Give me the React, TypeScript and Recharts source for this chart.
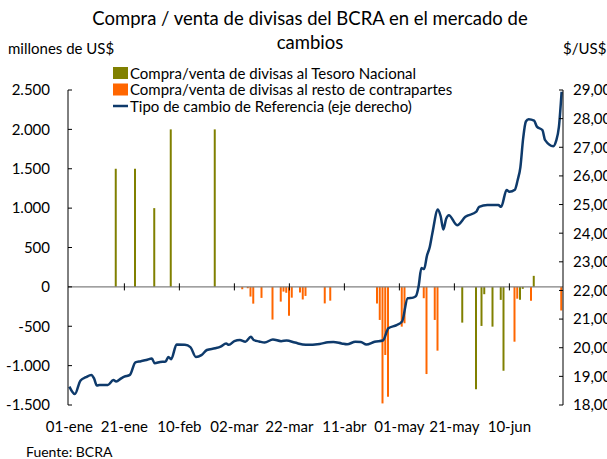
import React from 'react';
import { ComposedChart, Bar, Line, XAxis, YAxis, ReferenceLine } from 'recharts';

const NUM_DAYS = 180; // 01-ene .. 29-jun, one category per calendar day

const tickDays = [0, 20, 40, 60, 80, 100, 120, 140, 160];
const tickLabels = ['01-ene', '21-ene', '10-feb', '02-mar', '22-mar', '11-abr', '01-may', '21-may', '10-jun'];

const leftTicks = [-1500, -1000, -500, 0, 500, 1000, 1500, 2000, 2500];
const rightTicks = [18, 19, 20, 21, 22, 23, 24, 25, 26, 27, 28, 29];

// Compra/venta al Tesoro Nacional (millones de US$)
const tesoroDays = [17, 24, 31, 37, 53, 143, 148, 150, 151, 154, 157, 158, 164, 165, 169];
const tesoroValues = [1500, 1500, 1000, 2000, 2000, -454, -1300, -496, -93, -505, -165, -1065, -165, -25, 140];

// Compra/venta al resto de contrapartes (millones de US$)
const restoDays = [63, 65, 66, 67, 70, 74, 77, 78, 79, 80, 81, 84, 85, 86, 93, 95, 112, 113, 114, 115, 116, 121, 122, 129, 130, 133, 134, 162, 163, 168, 179];
const restoValues = [-30, -17, -123, -213, -140, -415, -187, -60, -75, -367, -137, -72, -160, -115, -210, -175, -210, -420, -1480, -865, -1395, -505, -462, -144, -1107, -420, -810, -696, -150, -175, -300];

// Tipo de cambio de referencia ($/US$)
const tcDays = [0, 2, 4, 6, 8, 9, 10, 11, 14, 16, 17, 19, 20, 22, 24, 26, 28, 30, 31, 33, 35, 36, 37, 39, 42, 44, 46, 48, 50, 53, 55, 57, 58, 60, 62, 64, 66, 67, 69, 71, 74, 77, 79, 82, 86, 91, 94, 96, 99, 101, 104, 106, 108, 111, 114, 116, 119, 121, 123, 125, 126, 127, 128, 129, 130, 131, 132, 134, 135, 136, 137, 138, 141, 144, 148, 149, 152, 156, 157, 159, 160, 162, 163, 164, 165, 166, 167, 169, 170, 172, 173, 176, 177, 178, 179];
const tcValues = [18.64, 18.38, 18.85, 18.97, 19.05, 18.92, 18.68, 18.70, 18.70, 18.87, 18.82, 18.94, 18.99, 19.05, 19.49, 19.53, 19.57, 19.62, 19.46, 19.50, 19.52, 19.68, 19.60, 20.11, 20.10, 20.02, 19.68, 19.74, 19.92, 19.98, 20.04, 20.15, 20.10, 20.23, 20.27, 20.21, 20.38, 20.27, 20.22, 20.18, 20.29, 20.23, 20.25, 20.18, 20.10, 20.13, 20.19, 20.20, 20.15, 20.12, 20.21, 20.20, 20.11, 20.21, 20.25, 20.68, 20.79, 20.92, 21.73, 21.75, 21.80, 22.15, 22.78, 22.75, 23.20, 23.50, 24.00, 24.83, 24.60, 24.13, 24.50, 24.63, 24.28, 24.57, 24.75, 24.92, 24.98, 24.98, 24.92, 25.51, 25.45, 25.52, 25.85, 26.30, 27.30, 27.90, 27.98, 27.93, 27.72, 27.60, 27.25, 27.04, 27.22, 27.70, 28.94];

const OLIVE = '#808000';
const ORANGE = '#FF6600';
const NAVY = '#0E3A6B';
const FONT = 'Lato, sans-serif';

const data = Array.from({ length: NUM_DAYS }, (_, d) => ({
  day: d,
  tesoro: null as number | null,
  resto: null as number | null,
  tc: null as number | null,
}));
tesoroDays.forEach((d, i) => { data[d].tesoro = tesoroValues[i]; });
restoDays.forEach((d, i) => { data[d].resto = restoValues[i]; });
tcDays.forEach((d, i) => { data[d].tc = tcValues[i]; });

const fmtThousands = (v: number) => {
  const s = Math.abs(v).toString().replace(/\B(?=(\d{3})+(?!\d))/g, '.');
  return v < 0 ? '-' + s : s;
};
const fmtRate = (v: number) => v.toFixed(2).replace('.', ',');

const legendItems = [
  { label: 'Compra/venta de divisas al Tesoro Nacional', color: OLIVE, kind: 'rect' },
  { label: 'Compra/venta de divisas al resto de contrapartes', color: ORANGE, kind: 'rect' },
  { label: 'Tipo de cambio de Referencia (eje derecho)', color: NAVY, kind: 'line' },
];

const tickStyle = { fontSize: 15, fill: '#000', fontFamily: FONT };

export default function App() {
  return (
    <div style={{ position: 'absolute', left: 0, top: 0, width: 607, height: 459, background: '#fff', fontFamily: FONT }}>
      <ComposedChart
        width={607}
        height={459}
        data={data}
        margin={{ top: 90, right: 4, bottom: 24, left: 8 }}
        barCategoryGap={0}
        barGap={0}
      >
        <XAxis
          dataKey="day"
          ticks={tickDays}
          interval={0}
          tickFormatter={(v: number) => tickLabels[tickDays.indexOf(v)]}
          axisLine={false}
          tickLine={false}
          tickSize={0}
          tickMargin={16}
          height={30}
          tick={tickStyle}
        />
        <YAxis
          yAxisId="left"
          domain={[-1500, 2500]}
          ticks={leftTicks}
          interval={0}
          tickFormatter={fmtThousands}
          width={60}
          tickSize={-4}
          tickMargin={22}
          axisLine={{ stroke: '#000' }}
          tickLine={{ stroke: '#000' }}
          tick={tickStyle}
        />
        <YAxis
          yAxisId="right"
          orientation="right"
          domain={[18, 29]}
          ticks={rightTicks}
          interval={0}
          tickFormatter={fmtRate}
          width={40}
          tickSize={-4}
          tickMargin={14}
          axisLine={{ stroke: '#000' }}
          tickLine={{ stroke: '#000' }}
          tick={tickStyle}
        />
        <ReferenceLine yAxisId="left" y={0} stroke="#808080" strokeWidth={1.3} />
        {tickDays.slice(1).map((d) => (
          <ReferenceLine
            key={d}
            yAxisId="left"
            segment={[{ x: d, y: -45 }, { x: d, y: 45 }]}
            stroke="#000"
          />
        ))}
        <Bar yAxisId="left" dataKey="tesoro" stackId="a" barSize={2} fill={OLIVE} isAnimationActive={false} />
        <Bar yAxisId="left" dataKey="resto" stackId="a" barSize={2} fill={ORANGE} isAnimationActive={false} />
        <Line
          yAxisId="right"
          dataKey="tc"
          type="monotone"
          stroke={NAVY}
          strokeWidth={2.5}
          dot={false}
          connectNulls
          isAnimationActive={false}
        />
      </ComposedChart>
      <svg width={607} height={459} style={{ position: 'absolute', left: 0, top: 0, pointerEvents: 'none' }}>
        <g fontFamily={FONT} fill="#000">
          <text x={310} y={25} fontSize={18.5} textAnchor="middle">Compra / venta de divisas del BCRA en el mercado de</text>
          <text x={310} y={49} fontSize={18.5} textAnchor="middle">cambios</text>
          <text x={8} y={54} fontSize={15}>millones de US$</text>
          <text x={563} y={54} fontSize={15}>$/US$</text>
          {legendItems.map((it, i) => (
            <g key={it.label}>
              {it.kind === 'rect' ? (
                <rect x={113} y={67 + i * 16.5} width={15} height={12} fill={it.color} />
              ) : (
                <line x1={113} x2={128} y1={73 + i * 16.5} y2={73 + i * 16.5} stroke={it.color} strokeWidth={2.5} />
              )}
              <text x={130} y={78.5 + i * 16.5} fontSize={15}>{it.label}</text>
            </g>
          ))}
          <text x={26} y={457} fontSize={14}>Fuente: BCRA</text>
        </g>
      </svg>
    </div>
  );
}
